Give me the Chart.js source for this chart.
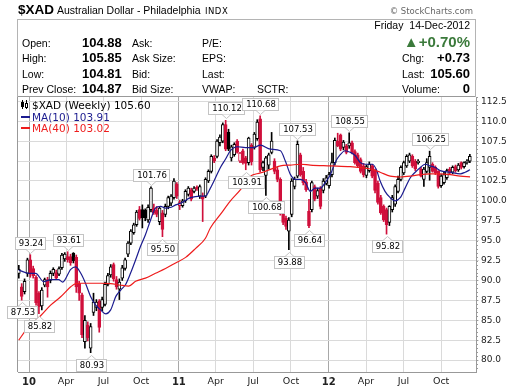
<!DOCTYPE html>
<html>
<head>
<meta charset="utf-8">
<script src="https://cdn.jsdelivr.net/npm/chart.js"></script>
<style>
  body { margin: 0; background: #fff; }
  #wrap { position: relative; width: 514px; height: 389px; overflow: hidden; font-family: "Liberation Sans", Arial, sans-serif; color: #000; }
  #chart { position: absolute; left: 0; top: 0; }
  .t { position: absolute; white-space: nowrap; font-size: 10.5px; line-height: 14px; height: 14px; }
  .v { font-weight: bold; font-size: 13px; }
  .rt { text-align: right; }
  #box { position: absolute; left: 17px; top: 19px; width: 457px; height: 77px; border: 1px solid #b4b4b4; border-bottom: none; }
  .lg { position: absolute; left: 32px; font-family: "DejaVu Sans", sans-serif; font-size: 10.5px; line-height: 12px; white-space: nowrap; }
  .mk { position: absolute; left: 21px; width: 9px; height: 2px; }
</style>
</head>
<body>
<div id="wrap">
  <canvas id="chart" width="514" height="389"></canvas>

  <div class="t v" style="left:18px;top:3px;font-size:13.5px">$XAD</div>
  <div class="t" style="left:57px;top:3px">Australian Dollar - Philadelphia</div>
  <div class="t" style="left:205px;top:4px;font-family:'DejaVu Sans';font-size:8.5px;letter-spacing:0.5px">INDX</div>
  <div class="t rt" style="right:41px;top:4px;font-family:'DejaVu Sans';font-size:8.5px;color:#666">&copy; StockCharts.com</div>

  <div id="box"></div>
  <div class="t rt" style="right:44px;top:18px">Friday&nbsp; 14-Dec-2012</div>

  <div class="t" style="left:22px;top:35.5px">Open:</div>
  <div class="t" style="left:22px;top:51px">High:</div>
  <div class="t" style="left:22px;top:66.5px">Low:</div>
  <div class="t" style="left:22px;top:82px">Prev Close:</div>
  <div class="t v" style="left:82px;top:35.5px">104.88</div>
  <div class="t v" style="left:82px;top:51px">105.85</div>
  <div class="t v" style="left:82px;top:66.5px">104.81</div>
  <div class="t v" style="left:82px;top:82px">104.87</div>
  <div class="t" style="left:132px;top:35.5px">Ask:</div>
  <div class="t" style="left:132px;top:51px">Ask Size:</div>
  <div class="t" style="left:132px;top:66.5px">Bid:</div>
  <div class="t" style="left:132px;top:82px">Bid Size:</div>
  <div class="t" style="left:202px;top:35.5px">P/E:</div>
  <div class="t" style="left:202px;top:51px">EPS:</div>
  <div class="t" style="left:202px;top:66.5px">Last:</div>
  <div class="t" style="left:202px;top:82px">VWAP:</div>
  <div class="t" style="left:257px;top:82px">SCTR:</div>

  <div class="t v rt" style="right:44px;top:34.5px;font-size:15px;color:#3b7a3b">&#9650;+0.70%</div>
  <div class="t" style="left:402px;top:51px">Chg:</div>
  <div class="t v rt" style="right:44px;top:51px">+0.73</div>
  <div class="t" style="left:402px;top:66.5px">Last:</div>
  <div class="t v rt" style="right:44px;top:66.5px">105.60</div>
  <div class="t" style="left:402px;top:82px">Volume:</div>
  <div class="t v rt" style="right:44px;top:82px">0</div>

  <div style="position:absolute;left:22px;top:100px;width:1px;height:9px;background:#000"></div>
  <div style="position:absolute;left:21px;top:102px;width:3px;height:5px;background:#000"></div>
  <div style="position:absolute;left:26px;top:100px;width:1px;height:9px;background:#000"></div>
  <div style="position:absolute;left:25px;top:103px;width:1px;height:3px;border:1px solid #000;background:#fff"></div>
  <div class="lg" style="top:99px;color:#000">$XAD (Weekly) 105.60</div>
  <div class="mk" style="top:116px;background:#1b1b8f"></div>
  <div class="lg" style="top:110.5px;color:#1b1b8f">MA(10) 103.91</div>
  <div class="mk" style="top:127px;background:#ee1c1c"></div>
  <div class="lg" style="top:122px;color:#ee1c1c">MA(40) 103.02</div>
</div>

<script>
// weekly candles, first one is the week of 2009-12-07
const opens = [
  90.9, 89.2, 88.6, 90.9, 92.6, 91.5, 90.4, 88.4, 86.8, 89.4,
  90.1, 90.0, 90.9, 91.0, 90.8, 91.6, 92.7, 93.0, 93.0, 93.4,
  92.9, 89.6, 88.2, 82.3, 84.4, 81.5, 86.0, 86.6, 87.4, 86.6,
  87.0, 89.5, 90.7, 92.0, 90.1, 88.9, 90.3, 91.5, 93.3, 94.7,
  96.0, 97.0, 98.9, 98.9, 98.8, 97.6, 98.9, 99.1, 98.8, 97.4,
  98.5, 98.3, 99.3, 99.7, 100.4, 102.1, 99.4, 99.4, 100.0, 100.8,
  101.4, 101.2, 101.7, 100.6, 100.6, 100.6, 102.5, 103.7, 105.4, 105.6,
  107.3, 107.5, 109.6, 108.6, 105.4, 105.8, 107.5, 105.0, 106.3, 105.4,
  104.8, 107.0, 106.7, 107.8, 110.3, 104.2, 103.2, 104.5, 106.1, 105.0,
  103.9, 102.7, 98.9, 97.8, 96.2, 98.3, 101.8, 103.1, 105.8, 103.7,
  102.4, 98.7, 98.9, 101.8, 100.6, 101.6, 101.3, 102.2, 101.9, 103.3,
  104.8, 107.5, 108.3, 106.7, 106.9, 106.9, 107.3, 106.2, 105.8, 105.2,
  104.4, 103.2, 103.8, 104.4, 103.8, 102.2, 100.4, 99.3, 98.9, 97.3,
  98.9, 99.6, 101.2, 102.7, 103.5, 104.4, 105.0, 105.6, 105.0, 104.8,
  104.0, 102.7, 103.7, 104.2, 104.6, 104.2, 103.7, 101.9, 102.3, 102.9,
  104.0, 103.6, 104.3, 103.9, 104.8, 104.3, 104.8, 105.0
];
const highs = [
  91.9, 89.6, 90.2, 92.8, 93.24, 91.8, 90.6, 88.6, 89.1, 90.3,
  90.4, 91.2, 91.6, 91.3, 91.7, 93.4, 93.5, 93.61, 93.3, 93.5,
  93.2, 89.9, 88.4, 85.6, 84.8, 84.6, 88.4, 87.6, 87.6, 87.9,
  89.8, 90.9, 92.0, 92.2, 90.5, 90.2, 91.9, 92.8, 94.9, 96.4,
  97.2, 98.8, 99.3, 99.5, 99.0, 99.5, 101.76, 99.6, 99.3, 99.3,
  98.8, 99.6, 100.6, 100.8, 102.8, 102.3, 100.1, 100.2, 101.4, 101.8,
  101.6, 101.8, 101.9, 102.0, 101.0, 102.9, 103.9, 105.8, 105.7, 107.7,
  108.3, 109.8, 110.12, 109.0, 107.0, 107.3, 107.7, 106.1, 106.5, 105.6,
  108.0, 107.2, 108.6, 110.2, 110.68, 105.0, 105.6, 106.0, 108.6, 105.3,
  104.2, 102.9, 99.2, 98.1, 97.9, 102.8, 103.0, 107.53, 106.0, 104.2,
  102.7, 100.2, 102.5, 102.0, 101.6, 101.8, 102.8, 103.2, 103.6, 106.0,
  107.9, 108.5, 108.4, 107.6, 107.1, 108.55, 107.5, 106.4, 106.0, 105.4,
  104.7, 104.5, 104.9, 104.6, 104.0, 102.5, 100.7, 99.5, 99.1, 99.4,
  100.7, 102.0, 103.1, 104.4, 105.0, 105.8, 106.0, 105.8, 105.2, 105.2,
  104.2, 104.2, 105.3, 106.25, 104.8, 104.4, 103.8, 103.3, 103.6, 104.0,
  104.2, 104.4, 104.5, 104.7, 104.9, 104.9, 105.2, 105.85
];
const lows = [
  90.3, 87.53, 88.3, 90.5, 90.4, 90.3, 86.9, 85.82, 86.3, 89.2,
  87.9, 89.7, 90.6, 90.1, 90.6, 91.4, 92.4, 92.3, 91.9, 92.2,
  88.5, 87.5, 82.8, 81.5, 82.4, 80.93, 85.6, 86.2, 83.5, 86.2,
  86.8, 89.3, 90.4, 89.9, 88.9, 87.6, 90.0, 91.3, 93.0, 94.5,
  95.8, 96.8, 97.6, 96.6, 97.5, 97.3, 98.6, 98.3, 98.0, 97.0,
  95.50, 98.0, 99.0, 99.4, 100.2, 100.3, 98.9, 99.2, 99.8, 100.6,
  100.0, 101.0, 101.3, 100.3, 97.4, 100.4, 102.3, 103.5, 104.8, 105.4,
  106.9, 107.3, 106.3, 106.3, 105.0, 105.6, 106.0, 104.8, 104.6, 103.91,
  104.5, 104.5, 106.5, 107.6, 103.6, 103.8, 100.68, 104.0, 105.9, 103.4,
  102.4, 98.2, 97.0, 96.4, 93.88, 98.0, 101.5, 102.9, 103.1, 102.0,
  101.2, 96.64, 98.6, 100.0, 100.3, 99.0, 101.0, 102.0, 101.6, 103.0,
  104.5, 106.8, 106.3, 106.4, 105.9, 106.6, 105.9, 104.6, 104.2, 103.5,
  103.0, 102.9, 103.6, 102.9, 101.0, 99.6, 98.3, 97.4, 95.82, 96.9,
  98.6, 99.3, 101.0, 102.5, 103.3, 104.2, 104.8, 104.2, 103.8, 104.6,
  103.0, 101.8, 103.5, 102.6, 103.6, 103.3, 101.6, 101.7, 102.1, 102.7,
  103.3, 103.4, 103.6, 103.7, 104.0, 104.1, 104.6, 104.8
];
const closes = [
  91.4, 88.0, 89.9, 92.6, 90.8, 90.6, 87.2, 86.7, 88.8, 90.1,
  89.2, 90.9, 91.4, 90.3, 91.5, 93.2, 93.3, 92.6, 92.2, 92.5,
  89.2, 88.4, 83.2, 85.0, 82.8, 84.2, 87.3, 87.3, 84.1, 87.6,
  89.5, 90.6, 91.7, 90.2, 89.2, 89.8, 91.6, 92.6, 94.7, 96.2,
  97.0, 98.6, 97.8, 97.9, 97.9, 99.2, 101.6, 98.5, 98.3, 99.1,
  96.4, 99.3, 100.4, 100.6, 102.5, 100.6, 99.8, 100.0, 101.2, 101.6,
  100.2, 101.6, 101.5, 101.8, 100.2, 102.7, 103.7, 105.6, 105.0, 107.5,
  108.0, 109.6, 106.5, 106.5, 106.8, 107.1, 106.1, 106.0, 104.8, 104.7,
  107.9, 104.9, 108.4, 109.9, 103.9, 104.8, 105.4, 105.8, 107.5, 103.7,
  102.7, 98.4, 97.3, 96.8, 97.6, 102.5, 102.7, 107.1, 103.3, 102.3,
  101.4, 96.9, 102.3, 100.2, 101.3, 99.3, 102.5, 102.9, 103.3, 104.8,
  107.6, 106.9, 106.5, 107.4, 106.1, 107.3, 106.1, 104.8, 104.4, 103.7,
  103.3, 104.3, 104.6, 103.1, 101.3, 99.8, 98.5, 97.6, 97.0, 99.3,
  100.4, 101.8, 102.7, 104.2, 104.8, 105.6, 105.8, 104.4, 104.0, 105.0,
  103.1, 104.0, 104.8, 105.6, 103.7, 103.5, 101.8, 103.1, 103.3, 103.8,
  103.5, 104.2, 103.8, 104.5, 104.2, 104.8, 105.0, 105.6
];

// labelled highs and lows (candle number, 1 = first candle)
const highMarks = [5, 18, 47, 73, 85, 98, 116, 144];
const lowMarks = [2, 8, 26, 51, 80, 87, 95, 102, 129];

// moving averages, in weeks counted from 2009-12-04
const ma10Weeks = [0.4, 4, 6.3, 9.1, 11.5, 14.3, 15.7, 18.5, 20.2, 22, 23.7, 25.4, 27.2, 28.9, 30.7, 32.4,
  34.2, 35.9, 37.6, 39.3, 41.1, 42.8, 44.5, 46.3, 48, 49.8, 51.5, 53.5, 55, 56.7, 60.2, 63.7, 65.4,
  67.1, 68.9, 70.6, 72.3, 74.1, 76.5, 79.3, 82.1, 84.5, 88, 91.5, 93.2, 95, 96.7, 98.4, 100.2, 101.9,
  103.6, 105.4, 107.1, 108.9, 110.5, 112.3, 114, 115.8, 117.5, 119.3, 121, 123.4, 124.8, 126.2, 127.9,
  129.7, 131.4, 133.2, 134.9, 136.7, 138.4, 140.2, 141.9, 143.6, 145.4, 147.1, 150.6, 154.1, 155.8, 157.5];
const ma10 = [91.3, 90.9, 90.9, 89.85, 90.1, 90.1, 89.8, 91.4, 91.7, 90.9, 89.6, 88.0, 86.9, 86.3, 85.8, 86.3,
  88.0, 88.8, 89.5, 90.9, 92.6, 94.3, 95.75, 97.6, 99.1, 99.3, 99.1, 99.2, 99.5, 99.7, 100.4, 100.6, 100.6,
  101.6, 102.9, 104.2, 105.2, 106.3, 106.8, 106.7, 106.7, 107.0, 106.5, 106.3, 105.0, 103.3, 102.7, 102.7, 102.3, 101.2,
  101.6, 101.6, 102.3, 103.3, 104.8, 105.8, 106.3, 106.1, 105.7, 104.8, 104.6, 104.6, 104.0, 102.5, 101.2,
  100.4, 100.0, 100.4, 101.6, 102.9, 103.6, 104.2, 104.6, 104.4, 104.2, 103.8, 103.6, 103.4, 103.6, 103.91];
const ma40Weeks = [0.4, 2.9, 4.6, 8.1, 11.5, 15, 18.5, 20.2, 22, 25.4, 28.9, 32.4, 35.9, 38.7, 41.1, 44.5,
  48, 51.5, 55, 58.5, 61.9, 65.4, 67.1, 70.6, 74.1, 77.6, 81, 84.5, 88, 91.5, 95, 98.4, 101.9, 108.9,
  115.8, 122.8, 126.2, 129.7, 133.2, 136.7, 140.2, 143.6, 147.1, 150.6, 154.1, 157.5];
const ma40 = [82.5, 83.75, 84.4, 85.6, 86.9, 87.95, 89.2, 89.6, 89.65, 89.65, 89.65, 89.6, 89.4, 89.3, 89.9, 90.3,
  90.9, 91.5, 92.2, 92.9, 94.0, 95.3, 96.6, 98.3, 100.0, 101.4, 103.1, 103.5, 103.95, 104.4, 104.5, 104.6, 104.5, 104.4,
  104.3, 104.0, 103.6, 103.1, 103.0, 103.1, 103.3, 103.4, 103.4, 103.3, 103.1, 103.02];

const quarterLabels = ['10', 'Apr', 'Jul', 'Oct', '11', 'Apr', 'Jul', 'Oct', '12', 'Apr', 'Jul', 'Oct'];
const priceTicks = [80, 82.5, 85, 87.5, 90, 92.5, 95, 97.5, 100, 102.5, 105, 107.5, 110, 112.5];

const DAY = 864e5;
const origin = Date.UTC(2010, 0, 1);
const toDay = t => (t - origin) / DAY;
const firstMonday = toDay(Date.UTC(2009, 11, 7));
const weekZero = toDay(Date.UTC(2009, 11, 4));
const candleX = opens.map((_, i) => firstMonday + 7 * i);
const quarterX = quarterLabels.map((_, q) => toDay(Date.UTC(2010 + Math.floor(q / 4), (q % 4) * 3, 1)));

const RED = '#d0103c', BLACK = '#000000';
const dirColor = closes.map((c, i) => c < (i ? closes[i - 1] : opens[i]) ? RED : BLACK);
const bodyFill = closes.map((c, i) => c < opens[i] ? dirColor[i] : '#ffffff');

const frame = {
    id: 'frame',
    beforeDatasetsDraw(chart) {
        const {ctx, chartArea: a} = chart;
        ctx.save();
        ctx.strokeStyle = '#999';
        ctx.lineWidth = 1;
        ctx.beginPath();
        ctx.moveTo(a.left - 0.5, a.bottom);
        ctx.lineTo(a.left - 0.5, a.top - 0.5);
        ctx.lineTo(a.right, a.top - 0.5);
        ctx.stroke();
        ctx.restore();
    },
    afterDraw(chart) {
        const {ctx, chartArea: a, scales: {y}} = chart;
        ctx.save();
        ctx.fillStyle = '#999';
        for (let v = 79; v <= 113; v += 0.5) {
            ctx.fillRect(a.right, Math.round(y.getPixelForValue(v)), 2, 1);
        }
        ctx.restore();
    }
};

const peakLabels = {
    id: 'peakLabels',
    afterDatasetsDraw(chart) {
        const {ctx, scales: {x, y}} = chart;
        ctx.save();
        ctx.font = '8.5px "DejaVu Sans"';
        ctx.textAlign = 'center';
        ctx.textBaseline = 'middle';
        const draw = (i, val, above) => {
            const px = Math.round(x.getPixelForValue(candleX[i]));
            const py = y.getPixelForValue(val);
            const txt = val.toFixed(2);
            const w = Math.round(ctx.measureText(txt).width + 6), h = 12;
            const tip = Math.round(above ? py - 2 : py + 2);
            const edge = above ? tip - 4 : tip + 4;
            const top = above ? edge - h : edge;
            const left = px - Math.round(w / 2);
            ctx.fillStyle = '#fff';
            ctx.fillRect(left, top, w, h);
            ctx.strokeStyle = '#c4c4c4';
            ctx.lineWidth = 1;
            ctx.strokeRect(left + 0.5, top + 0.5, w, h);
            ctx.beginPath();
            ctx.moveTo(px - 4, edge + 0.5);
            ctx.lineTo(px + 0.5, tip + 0.5);
            ctx.lineTo(px + 5, edge + 0.5);
            ctx.closePath();
            ctx.fill();
            ctx.beginPath();
            ctx.moveTo(px - 4, edge + 0.5);
            ctx.lineTo(px + 0.5, tip + 0.5);
            ctx.lineTo(px + 5, edge + 0.5);
            ctx.stroke();
            ctx.fillStyle = '#000';
            ctx.fillText(txt, px + 1, top + h / 2 + 1);
        };
        highMarks.forEach(n => draw(n - 1, highs[n - 1], true));
        lowMarks.forEach(n => draw(n - 1, lows[n - 1], false));
        ctx.restore();
    }
};

new Chart(document.getElementById('chart'), {
    type: 'bar',
    data: {
        datasets: [
            {
                label: 'MA(10)',
                type: 'line',
                data: ma10Weeks.map((w, i) => ({x: weekZero + 7 * w, y: ma10[i]})),
                borderColor: '#1b1b8f',
                borderWidth: 1.2,
                pointRadius: 0,
                cubicInterpolationMode: 'monotone',
                order: 1
            },
            {
                label: 'MA(40)',
                type: 'line',
                data: ma40Weeks.map((w, i) => ({x: weekZero + 7 * w, y: ma40[i]})),
                borderColor: '#ee1c1c',
                borderWidth: 1.2,
                pointRadius: 0,
                cubicInterpolationMode: 'monotone',
                order: 0
            },
            {
                label: 'body',
                data: candleX.map((d, i) => ({x: d, y: [opens[i], closes[i]]})),
                backgroundColor: bodyFill,
                borderColor: dirColor,
                borderWidth: 1,
                borderSkipped: false,
                barThickness: 3,
                grouped: false,
                order: 2
            },
            {
                label: 'wick',
                data: candleX.map((d, i) => ({x: d, y: [lows[i], highs[i]]})),
                backgroundColor: dirColor,
                barThickness: 1,
                grouped: false,
                order: 3
            }
        ]
    },
    options: {
        responsive: false,
        animation: false,
        devicePixelRatio: 1,
        layout: {padding: {left: 18, top: 97, right: 0, bottom: 0}},
        plugins: {legend: {display: false}, tooltip: {enabled: false}},
        scales: {
            x: {
                type: 'linear',
                offset: false,
                min: toDay(Date.UTC(2009, 11, 5)),
                max: toDay(Date.UTC(2012, 11, 25)),
                afterBuildTicks: s => { s.ticks = quarterX.map(v => ({value: v})); },
                afterFit: s => { s.height = 17; },
                grid: {
                    color: c => c.index % 4 === 0 ? '#a8a8a8' : '#dadada',
                    drawTicks: false,
                    offset: false
                },
                border: {color: '#999'},
                ticks: {
                    autoSkip: false,
                    maxRotation: 0,
                    padding: 4,
                    color: '#222',
                    font: c => c.index % 4 === 0
                        ? {family: 'DejaVu Sans', size: 10, weight: 'bold'}
                        : {family: 'DejaVu Sans', size: 9.5},
                    callback: (v, i) => quarterLabels[i]
                }
            },
            y: {
                position: 'right',
                min: 78.5,
                max: 113.05,
                afterBuildTicks: s => { s.ticks = priceTicks.map(v => ({value: v})); },
                afterFit: s => { s.width = 38; },
                grid: {color: '#dadada', tickLength: 3},
                border: {color: '#999'},
                ticks: {
                    padding: 2,
                    color: '#222',
                    font: {family: 'DejaVu Sans', size: 9},
                    callback: v => v.toFixed(1)
                }
            }
        }
    },
    plugins: [frame, peakLabels]
});
</script>
</body>
</html>
